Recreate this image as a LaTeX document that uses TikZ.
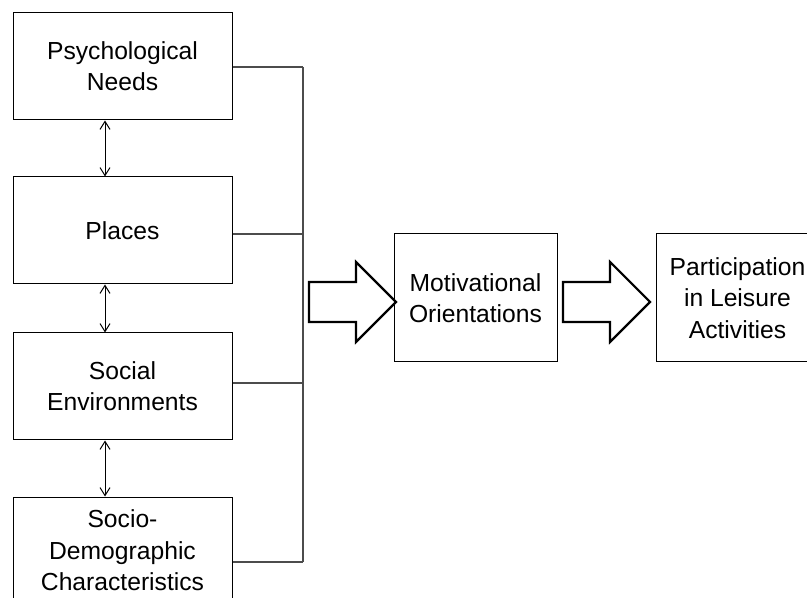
\documentclass[tikz,border=0pt]{standalone}
\usepackage{fontspec}
\setmainfont{Liberation Sans}
\usetikzlibrary{arrows.meta}
\tikzset{
    factor/.style={rectangle, draw, line width=0.75pt, inner sep=0mm, align=center,
        font=\fontsize{18.5}{23.5}\selectfont, minimum width=164.25pt, minimum height=80.25pt}
}
\tikzset{
    stage/.style={rectangle, draw, line width=0.75pt, inner sep=0mm, align=center,
        font=\fontsize{18.5}{23.5}\selectfont, minimum width=122.25pt, minimum height=96pt}
}
\tikzset{link/.style={<->, >={Straight Barb[length=6pt, width=7.5pt]}, line width=0.75pt}}
\tikzset{feed/.style={draw=black!70, line width=0.8pt}}
\tikzset{fat/.style={draw, line width=1.6pt, line join=miter}}

\begin{document}
\begin{tikzpicture}[x=0.75pt, y=-0.75pt]
    \useasboundingbox (0,0) rectangle (807,598);
    \clip (0,0) rectangle (807,598);

    \node[factor] (needs) at (122.5,66.5) {Psychological\\Needs};
    \node[factor] (places) at (122.5,230.5) {Places};
    \node[factor] (social) at (122.5,386.5) {Social\\Environments};
    \node[factor] (socio) at (122.5,550.5) {Socio-\\Demographic\\Characteristics};
    \node[stage] (motiv) at (475.5,298) {Motivational\\Orientations};
    \node[stage] (partic) at (737.5,298) {Participation\\in Leisure\\Activities};

    \coordinate (axis) at (105,0);
    \coordinate (j1) at (303,67);
    \coordinate (j2) at (303,234);
    \coordinate (j3) at (303,383);
    \coordinate (j4) at (303,562);

    \draw[link] (axis |- needs.south) -- (axis |- places.north);
    \draw[link] (axis |- places.south) -- (axis |- social.north);
    \draw[link] (axis |- social.south) -- (axis |- socio.north);

    \draw[feed] (j1) -- (j4);
    \draw[feed] (j1 -| needs.east) -- (j1);
    \draw[feed] (j2 -| places.east) -- (j2);
    \draw[feed] (j3 -| social.east) -- (j3);
    \draw[feed] (j4 -| socio.east) -- (j4);

    \foreach \s in {309,563}
        \draw[fat] (\s,282) -- (\s+47,282) -- (\s+47,262) -- (\s+87,302)
            -- (\s+47,342) -- (\s+47,322) -- (\s,322) -- cycle;
\end{tikzpicture}
\end{document}
